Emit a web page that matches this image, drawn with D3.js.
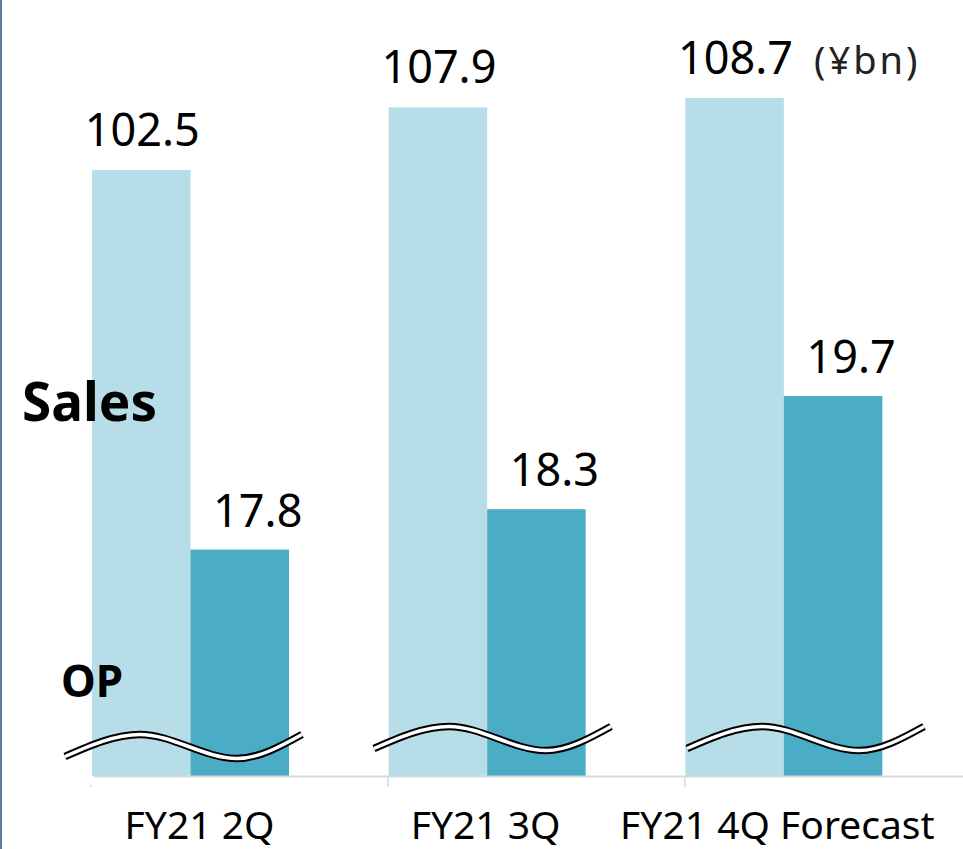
<!DOCTYPE html>
<html>
<head>
<meta charset="utf-8">
<script src="https://cdn.jsdelivr.net/npm/d3@7"></script>
<style>
  html, body { margin: 0; padding: 0; background: #fff; }
  svg { display: block; }
  text { font-family: "Noto Sans", "DejaVu Sans", sans-serif; }
</style>
</head>
<body>
<svg id="chart" width="963" height="849"></svg>
<script>
// ---- data ----
const categories = ["FY21 2Q", "FY21 3Q", "FY21 4Q Forecast"];
const salesValues = [102.5, 107.9, 108.7];
const opValues = [17.8, 18.3, 19.7];
const seriesNames = ["Sales", "OP"];
const unitLabel = "(¥bn)";

// ---- layout ----
const W = 963, H = 849;
const baseY = 776;
const svg = d3.select("#chart");

const x0 = d3.scaleBand().domain(categories).range([92, 982]).paddingInner(0).paddingOuter(0);
const x1 = d3.scaleBand().domain(["sales", "op"]).range([0, 197]).padding(0);
const labelOffsets = [107.5, 97, 92];

// broken axes: each series has its own truncated scale
const ySales = d3.scaleLinear().domain([50.3, 108.7]).range([baseY, 98]);
const yOp = d3.scaleLinear().domain([15, 19.7]).range([baseY, 396]);

const colors = { sales: "#b7dee8", op: "#4bacc6" };

// left border
svg.append("rect").attr("x", 0).attr("y", 0).attr("width", 2).attr("height", H).attr("fill", "#5a7fa2");

const data = categories.map((c, i) => ({ cat: c, sales: salesValues[i], op: opValues[i], i }));

const g = svg.append("g");
const groups = g.selectAll("g.grp").data(data).join("g")
  .attr("class", "grp")
  .attr("transform", d => `translate(${x0(d.cat)},0)`);

groups.append("rect")
  .attr("x", x1("sales")).attr("width", x1.bandwidth())
  .attr("y", d => ySales(d.sales)).attr("height", d => baseY - ySales(d.sales))
  .attr("fill", colors.sales);
groups.append("rect")
  .attr("x", x1("op")).attr("width", x1.bandwidth())
  .attr("y", d => yOp(d.op)).attr("height", d => baseY - yOp(d.op))
  .attr("fill", colors.op);

// value labels
groups.append("text")
  .attr("x", x1("sales") + x1.bandwidth() / 2 + 1)
  .attr("y", d => ySales(d.sales) - 24)
  .attr("text-anchor", "middle").attr("font-size", 45).attr("fill", "#000")
  .text(d => d.sales.toFixed(1));
groups.append("text")
  .attr("x", x1("op") + x1.bandwidth() / 2 + 18)
  .attr("y", d => yOp(d.op) - 23)
  .attr("text-anchor", "middle").attr("font-size", 45).attr("fill", "#000")
  .text(d => d.op.toFixed(1));

// axis baseline and ticks
svg.append("line").attr("x1", 94).attr("x2", W).attr("y1", baseY + 0.5).attr("y2", baseY + 0.5)
  .attr("stroke", "#d9d9d9").attr("stroke-width", 2);
categories.forEach((c, i) => {
  const tx = x0(c) - 0.5;
  svg.append("line").attr("x1", i === 0 ? 91 : tx).attr("x2", i === 0 ? 91 : tx)
    .attr("y1", i === 0 ? 785 : baseY).attr("y2", 787)
    .attr("stroke", "#d9d9d9").attr("stroke-width", 1.5);
});

// category labels
groups.append("text")
  .attr("x", d => labelOffsets[d.i])
  .attr("y", 839)
  .attr("text-anchor", "middle").attr("font-size", 39).attr("fill", "#000")
  .text(d => d.cat);

// break (wave) symbols
const waveStarts = [65, 374, 687];
const waveTops = [731, 723, 723];
const waveShape = [[0, 22], [75, 0], [172, 24], [237, 0]];
const line = d3.line().curve(d3.curveMonotoneX);
categories.forEach((c, i) => {
  const pts = waveShape.map(p => [waveStarts[i] + p[0], waveTops[i] + 3.5 + p[1]]);
  svg.append("path").attr("d", line(pts)).attr("fill", "none")
    .attr("stroke", "#000").attr("stroke-width", 7.5);
  svg.append("path").attr("d", line(pts)).attr("fill", "none")
    .attr("stroke", "#fff").attr("stroke-width", 3.5);
});

// series labels
svg.append("text").attr("x", 22).attr("y", 421)
  .attr("font-size", 53).attr("font-weight", "bold").attr("fill", "#000").text(seriesNames[0]);
svg.append("text").attr("x", 61).attr("y", 697)
  .attr("font-size", 44).attr("font-weight", "bold").attr("fill", "#000").text(seriesNames[1]);

// unit
svg.append("text").attr("x", 814).attr("y", 74)
  .attr("font-size", 38).attr("letter-spacing", 3).attr("fill", "#222").text(unitLabel);
</script>
</body>
</html>
